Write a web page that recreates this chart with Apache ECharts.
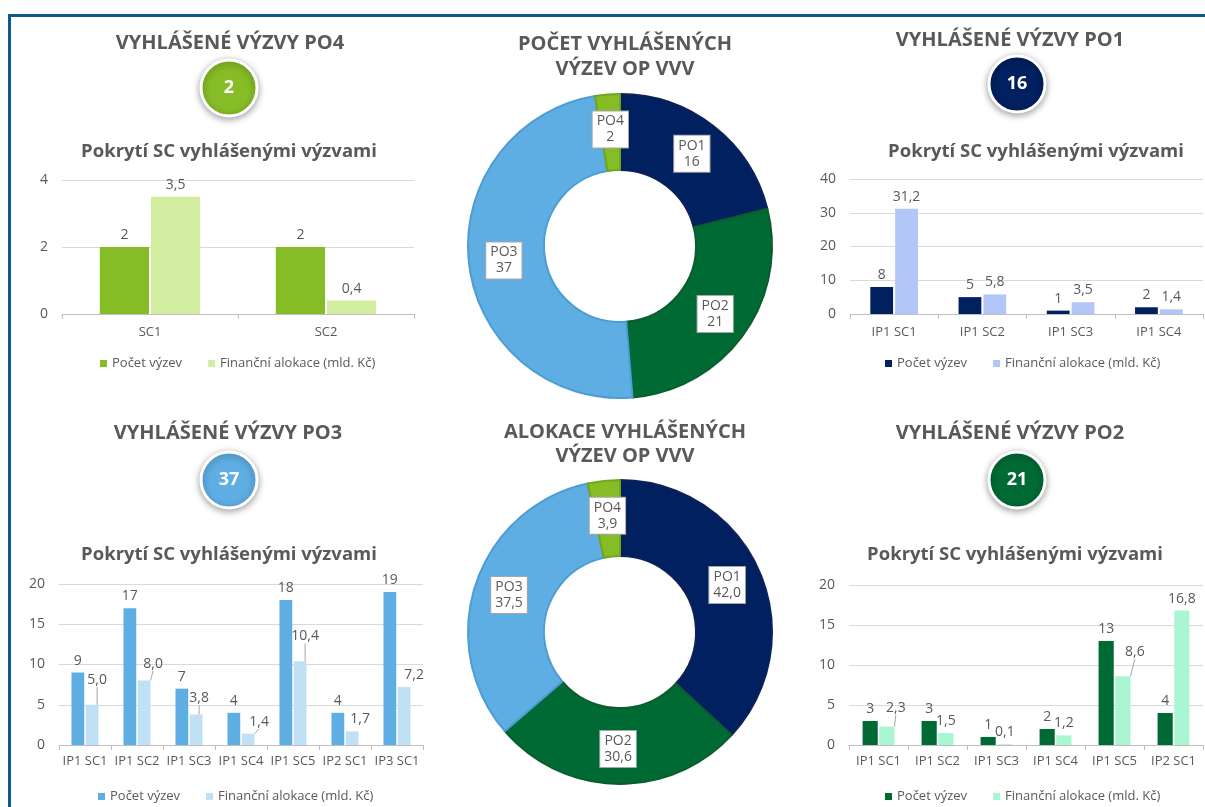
<!DOCTYPE html>
<html>
<head>
<meta charset="utf-8">
<script src="https://cdn.jsdelivr.net/npm/echarts@6/dist/echarts.min.js"></script>
<style>
html,body{margin:0;padding:0;background:#fff;}
#c{width:1205px;height:807px;}
</style>
</head>
<body>
<div id="c"></div>
<script>
// ---- data ----
const po4Cats = ['SC1', 'SC2'];
const po4Count = [2, 2];
const po4Alloc = [3.5, 0.4];

const po1Cats = ['IP1 SC1', 'IP1 SC2', 'IP1 SC3', 'IP1 SC4'];
const po1Count = [8, 5, 1, 2];
const po1Alloc = [31.2, 5.8, 3.5, 1.4];

const po3Cats = ['IP1 SC1', 'IP1 SC2', 'IP1 SC3', 'IP1 SC4', 'IP1 SC5', 'IP2 SC1', 'IP3 SC1'];
const po3Count = [9, 17, 7, 4, 18, 4, 19];
const po3Alloc = [5.0, 8.0, 3.8, 1.4, 10.4, 1.7, 7.2];

const po2Cats = ['IP1 SC1', 'IP1 SC2', 'IP1 SC3', 'IP1 SC4', 'IP1 SC5', 'IP2 SC1'];
const po2Count = [3, 3, 1, 2, 13, 4];
const po2Alloc = [2.3, 1.5, 0.1, 1.2, 8.6, 16.8];

const poNames = ['PO1', 'PO2', 'PO3', 'PO4'];
const callCounts = [16, 21, 37, 2];
const allocTotals = [42.0, 30.6, 37.5, 3.9];

const seriesNames = ['Počet výzev', 'Finanční alokace (mld. Kč)'];
const mainTitles = ['VYHLÁŠENÉ VÝZVY PO4', 'VYHLÁŠENÉ VÝZVY PO1', 'VYHLÁŠENÉ VÝZVY PO3', 'VYHLÁŠENÉ VÝZVY PO2'];
const subTitle = 'Pokrytí SC vyhlášenými výzvami';
const donutTitles = ['POČET VYHLÁŠENÝCH\nVÝZEV OP VVV', 'ALOKACE VYHLÁŠENÝCH\nVÝZEV OP VVV'];
const yMax = [4, 40, 20, 20];
const yInterval = [2, 10, 5, 5];

// ---- styling / layout ----
const FONT = '"Open Sans", "Liberation Sans", sans-serif';
const GRAY = '#595959';
const poColors = { PO1: '#002060', PO2: '#006a35', PO3: '#5eaee3', PO4: '#86bc25' };
const poBorders = { PO1: '#0c2258', PO2: '#0c5b2f', PO3: '#4c9dd4', PO4: '#70a61c' };

const panels = [
  { key: 'PO4', cats: po4Cats, count: po4Count, alloc: po4Alloc, c1: '#86bc25', c2: '#d2eca0',
    grid: { left: 62, top: 180, width: 352, height: 134 }, title: [230, 43], badge: [229, 88], sub: [229, 152],
    legend: { left: 95, top: 352 }, cg: '43%', bg: '4%', xMargin: 12, badgeNum: callCounts[3], offs: null, lines: null },
  { key: 'PO1', cats: po1Cats, count: po1Count, alloc: po1Alloc, c1: '#002060', c2: '#b2c6f7',
    grid: { left: 850, top: 179, width: 353, height: 135 }, title: [1010, 40], badge: [1017, 84], sub: [1036, 152],
    legend: { left: 880, top: 352 }, cg: '46%', bg: '9%', xMargin: 12, badgeNum: callCounts[0], offs: null, lines: null },
  { key: 'PO3', cats: po3Cats, count: po3Count, alloc: po3Alloc, c1: '#5eaee3', c2: '#c0e0f5',
    grid: { left: 59, top: 584, width: 364, height: 161 }, title: [228, 433], badge: [229, 480], sub: [229, 555],
    legend: { left: 93, top: 785 }, cg: '48%', bg: '12%', xMargin: 10, badgeNum: callCounts[2],
    offs: [[5, -13], [9, -5], [3, -4], [11, 0], [5, -13], [8, 0], [10, 0]],
    lines: [true, true, true, true, true, false, false] },
  { key: 'PO2', cats: po2Cats, count: po2Count, alloc: po2Alloc, c1: '#006a35', c2: '#aaf5d2',
    grid: { left: 849, top: 585, width: 354, height: 160 }, title: [1010, 433], badge: [1017, 480], sub: [1015, 555],
    legend: { left: 880, top: 785 }, cg: '46%', bg: '10%', xMargin: 10, badgeNum: callCounts[1],
    offs: [[9, -7], [0, 0], [0, 0], [0, 0], [12, -12], [0, 0]],
    lines: [true, false, false, false, true, false] }
];

const fmtInt = p => String(Math.round(p.value));
const fmtDec = p => Number(p.value).toFixed(1).replace('.', ',');

const grids = [], xAxes = [], yAxes = [], series = [], legends = [], graphics = [];

// frame
graphics.push({ type: 'rect', shape: { x: 8, y: 14, width: 1197, height: 3 }, style: { fill: '#0f5a8c' }, z: 100 });
graphics.push({ type: 'rect', shape: { x: 8, y: 14, width: 3, height: 793 }, style: { fill: '#0f5a8c' }, z: 100 });

function addText(text, x, y, font, fill, lh) {
  graphics.push({ type: 'text', x: x, y: y, z: 50,
    style: { text: text, font: font, fill: fill, align: 'center', verticalAlign: 'middle',
      textAlign: 'center', textVerticalAlign: 'middle', lineHeight: lh || 26 } });
}

panels.forEach((p, i) => {
  grids.push(Object.assign({ containLabel: false }, p.grid));
  xAxes.push({
    type: 'category', gridIndex: i, data: p.cats,
    axisLine: { lineStyle: { color: '#bfbfbf', width: 1 } },
    axisTick: { show: true, length: 5, lineStyle: { color: '#bfbfbf' } },
    axisLabel: { color: GRAY, fontSize: 13, fontFamily: FONT, margin: p.xMargin, interval: 0 }
  });
  yAxes.push({
    type: 'value', gridIndex: i, min: 0, max: yMax[i], interval: yInterval[i],
    axisLine: { show: false }, axisTick: { show: false },
    axisLabel: { color: GRAY, fontSize: 14, fontFamily: FONT, margin: 14 },
    splitLine: { lineStyle: { color: '#d9d9d9' } }
  });
  const n1 = seriesNames[0] + '|' + p.key, n2 = seriesNames[1] + '|' + p.key;
  series.push({
    type: 'bar', name: n1, xAxisIndex: i, yAxisIndex: i, data: p.count,
    barCategoryGap: p.cg, barGap: p.bg, itemStyle: { color: p.c1 },
    label: { show: true, position: 'top', distance: 5, color: GRAY, fontSize: 14, fontFamily: FONT, formatter: fmtInt },
    emphasis: { disabled: true }, animation: false
  });
  const offs = p.offs, lines = p.lines;
  const allocData = p.alloc.map((v, k) => ({
    value: v,
    labelLine: { show: !!(lines && lines[k]), lineStyle: { color: '#a6a6a6', width: 1 } }
  }));
  const s2 = {
    type: 'bar', name: n2, xAxisIndex: i, yAxisIndex: i, data: allocData,
    barCategoryGap: p.cg, barGap: p.bg, itemStyle: { color: p.c2 },
    label: { show: true, position: 'top', distance: 5, color: GRAY, fontSize: 14, fontFamily: FONT, formatter: fmtDec },
    emphasis: { disabled: true }, animation: false
  };
  if (offs) {
    s2.labelLayout = function (params) {
      const o = offs[params.dataIndex] || [0, 0];
      return { dx: o[0], dy: o[1] };
    };
    s2.labelLine = { show: false, lineStyle: { color: '#a6a6a6', width: 1 } };
  }
  series.push(s2);
  legends.push({
    left: p.legend.left, top: p.legend.top, orient: 'horizontal', itemGap: 26,
    itemWidth: 7, itemHeight: 7, icon: 'rect', selectedMode: false,
    textStyle: { color: GRAY, fontSize: 13, fontFamily: FONT },
    data: [{ name: n1, itemStyle: { color: p.c1 } }, { name: n2, itemStyle: { color: p.c2 } }],
    formatter: name => name.split('|')[0]
  });
  addText(mainTitles[i], p.title[0], p.title[1], 'bold 20px ' + FONT, GRAY);
  addText(subTitle, p.sub[0], p.sub[1], 'bold 18.5px ' + FONT, GRAY);
  graphics.push({ type: 'circle', z: 40, shape: { cx: p.badge[0], cy: p.badge[1], r: 28 },
    style: { fill: poColors[p.key], stroke: '#ffffff', lineWidth: 3, shadowBlur: 7, shadowColor: 'rgba(0,0,0,0.35)', shadowOffsetY: 2 } });
  addText(String(p.badgeNum), p.badge[0], p.badge[1], 'bold 18px ' + FONT, '#ffffff');
});

function donut(values, center, fmt) {
  return {
    type: 'pie', center: center, radius: [76, 152], startAngle: 90, clockwise: true,
    avoidLabelOverlap: false, animation: false, emphasis: { disabled: true },
    data: poNames.map((n, k) => ({ name: n, value: values[k],
      itemStyle: { color: poColors[n], borderColor: poBorders[n], borderWidth: 2 } })),
    label: { show: true, position: 'inside', formatter: fmt, color: GRAY, fontSize: 14, fontFamily: FONT,
      lineHeight: 16, backgroundColor: '#ffffff', borderColor: '#a6a6a6', borderWidth: 1, padding: [2, 4] },
    labelLine: { show: false }
  };
}
series.push(donut(callCounts, [620, 246], p => p.name + '\n' + Math.round(p.value)));
series.push(donut(allocTotals, [620, 632], p => p.name + '\n' + Number(p.value).toFixed(1).replace('.', ',')));
addText(donutTitles[0], 625, 57, 'bold 20px ' + FONT, GRAY, 25);
addText(donutTitles[1], 625, 444, 'bold 20px ' + FONT, GRAY, 24);

const chart = echarts.init(document.getElementById('c'), null, { renderer: 'canvas' });
chart.setOption({
  backgroundColor: '#ffffff',
  animation: false,
  grid: grids, xAxis: xAxes, yAxis: yAxes, legend: legends, series: series, graphic: graphics
});
</script>
</body>
</html>
